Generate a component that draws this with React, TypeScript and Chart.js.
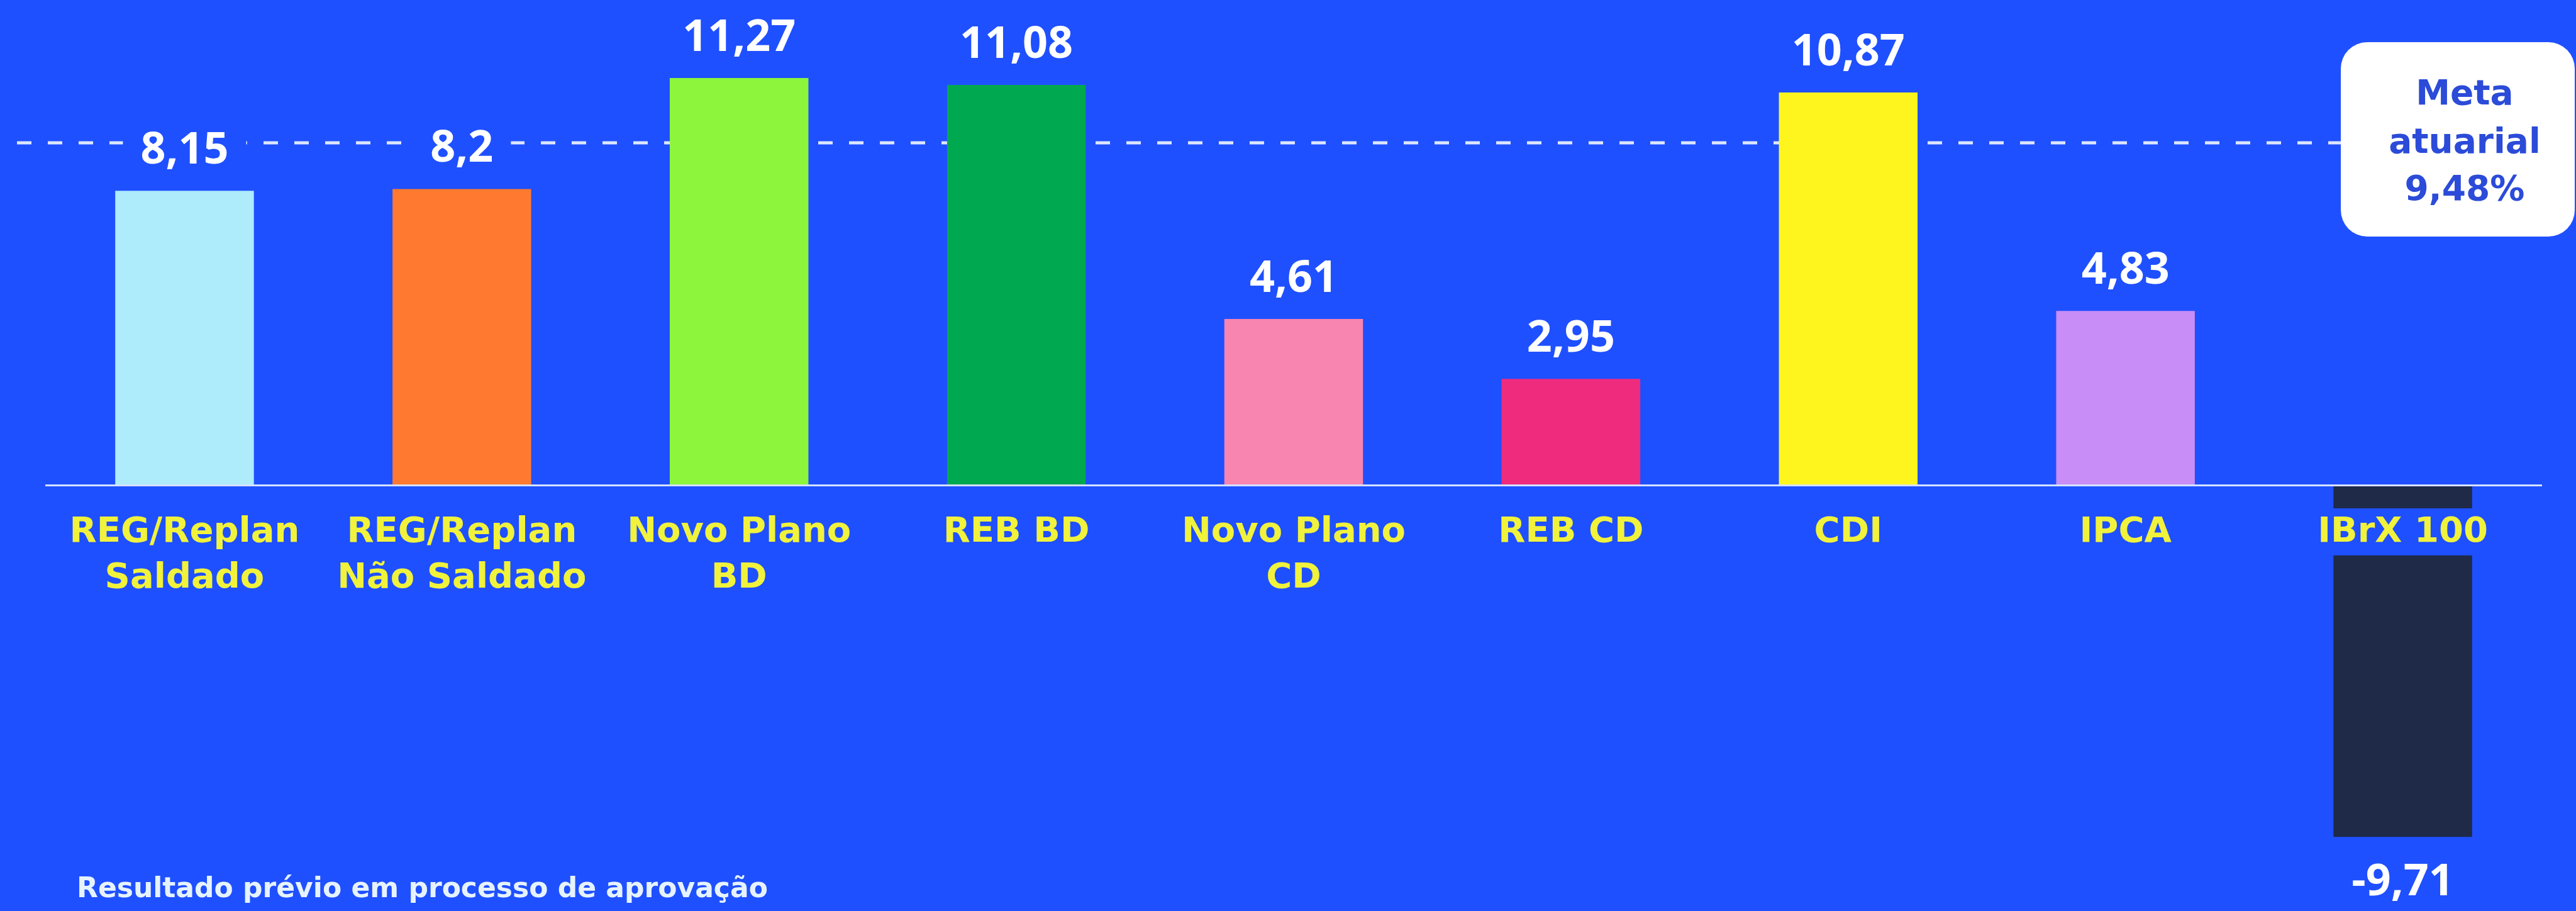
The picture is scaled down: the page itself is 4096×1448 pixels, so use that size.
import React, { useEffect, useRef } from "react";
import { Chart, registerables } from "chart.js";

Chart.register(...registerables);

// ---- data ----
const categories: string[][] = [
  ["REG/Replan", "Saldado"],
  ["REG/Replan", "Não Saldado"],
  ["Novo Plano", "BD"],
  ["REB BD"],
  ["Novo Plano", "CD"],
  ["REB CD"],
  ["CDI"],
  ["IPCA"],
  ["IBrX 100"],
];
const values: number[] = [8.15, 8.2, 11.27, 11.08, 4.61, 2.95, 10.87, 4.83, -9.71];
const barColors: string[] = [
  "#AEEBFB",
  "#FF7A30",
  "#8CF53C",
  "#00A94F",
  "#F884B0",
  "#EF2B7E",
  "#FFF51E",
  "#C88DF6",
  "#1E2A48",
];
const metaValue = 9.48;
const metaLines: string[] = ["Meta", "atuarial"];
const footnote = "Resultado prévio em processo de aprovação";
const yMin = -11.757;
const yMax = 13.426;

const BG = "#1F50FF";
const WIDE = "'DejaVu Sans', 'Noto Sans', sans-serif";
const NUM = "'Open Sans', 'Noto Sans', sans-serif";
const fmt = (v: number) => v.toString().replace(".", ",");

const backgroundPlugin = {
  id: "bgFill",
  beforeDraw(chart: any) {
    const { ctx, width, height } = chart;
    ctx.save();
    ctx.fillStyle = BG;
    ctx.fillRect(0, 0, width, height);
    ctx.restore();
  },
};

const BOX_LEFT = 3722;

const metaLinePlugin = {
  id: "metaLine",
  beforeDatasetsDraw(chart: any) {
    const { ctx } = chart;
    const y = chart.scales.y.getPixelForValue(metaValue);
    ctx.save();
    ctx.strokeStyle = "#DCE6FF";
    ctx.lineWidth = 5;
    ctx.setLineDash([23, 26]);
    ctx.beginPath();
    ctx.moveTo(27, y);
    ctx.lineTo(BOX_LEFT, y);
    ctx.stroke();
    ctx.restore();
  },
};

const valueLabelPlugin = {
  id: "valueLabels",
  afterDatasetsDraw(chart: any) {
    const { ctx } = chart;
    const meta = chart.getDatasetMeta(0);
    ctx.save();
    ctx.font = `700 70px ${NUM}`;
    ctx.textAlign = "center";
    ctx.textBaseline = "alphabetic";
    meta.data.forEach((el: any, i: number) => {
      const v = values[i];
      const text = fmt(v);
      const base = v >= 0 ? el.y - 43 : el.y + 93;
      const w = ctx.measureText(text).width;
      ctx.fillStyle = BG;
      ctx.fillRect(el.x - w / 2 - 28, base - 62, w + 56, 80);
      ctx.fillStyle = "#FFFFFF";
      ctx.fillText(text, el.x, base);
    });
    ctx.restore();
  },
};

const overlayPlugin = {
  id: "overlay",
  afterDraw(chart: any) {
    const { ctx } = chart;
    ctx.save();
    // Meta box
    const x0 = BOX_LEFT, y0 = 67, w = 4094 - BOX_LEFT, h = 309, r = 42;
    ctx.fillStyle = "#FFFFFF";
    ctx.beginPath();
    ctx.roundRect(x0, y0, w, h, r);
    ctx.fill();
    ctx.fillStyle = "#2B4BD8";
    ctx.font = `700 55px ${WIDE}`;
    ctx.textAlign = "center";
    ctx.textBaseline = "alphabetic";
    const cx = 3919;
    const lines = [...metaLines, fmt(metaValue) + "%"];
    const baselines = [166, 243, 318];
    lines.forEach((t, i) => ctx.fillText(t, cx, baselines[i]));
    // footnote
    ctx.fillStyle = "#E6F3FF";
    ctx.font = `700 44px ${WIDE}`;
    ctx.textAlign = "left";
    ctx.fillText(footnote, 122, 1426);
    ctx.restore();
  },
};

export default function App() {
  const ref = useRef<HTMLCanvasElement | null>(null);
  useEffect(() => {
    document.body.style.margin = "0";
    const canvas = ref.current;
    if (!canvas) return;
    const chart = new Chart(canvas, {
      type: "bar",
      data: {
        labels: categories,
        datasets: [
          {
            data: values,
            backgroundColor: barColors,
            borderWidth: 0,
            barPercentage: 0.5,
            categoryPercentage: 1,
          },
        ],
      },
      options: {
        animation: false,
        responsive: false,
        devicePixelRatio: 1,
        layout: { padding: { left: 73, right: 55, top: 0, bottom: 0 } },
        plugins: { legend: { display: false }, tooltip: { enabled: false }, title: { display: false } },
        scales: {
          x: {
            position: { y: 0 } as any,
            grid: { display: false, drawTicks: false },
            border: { display: true, color: "#D6E2FF", width: 3, z: 1 } as any,
            ticks: {
              z: 1,
              autoSkip: false,
              maxRotation: 0,
              minRotation: 0,
              padding: 38,
              color: "#F0F23C",
              font: { family: WIDE, weight: "bold", size: 56, lineHeight: 1.3 },
              showLabelBackdrop: (c: any) => c.index === 8,
              backdropColor: BG,
              backdropPadding: { top: 2, bottom: 0, left: 12, right: 12 },
            } as any,
          },
          y: {
            display: false,
            min: yMin,
            max: yMax,
          },
        },
      },
      plugins: [backgroundPlugin, metaLinePlugin, valueLabelPlugin, overlayPlugin],
    });
    return () => chart.destroy();
  }, []);
  return (
    <div style={{ width: 4096, height: 1448, position: "relative" }}>
      <canvas ref={ref} width={4096} height={1448} style={{ display: "block" }} />
    </div>
  );
}
